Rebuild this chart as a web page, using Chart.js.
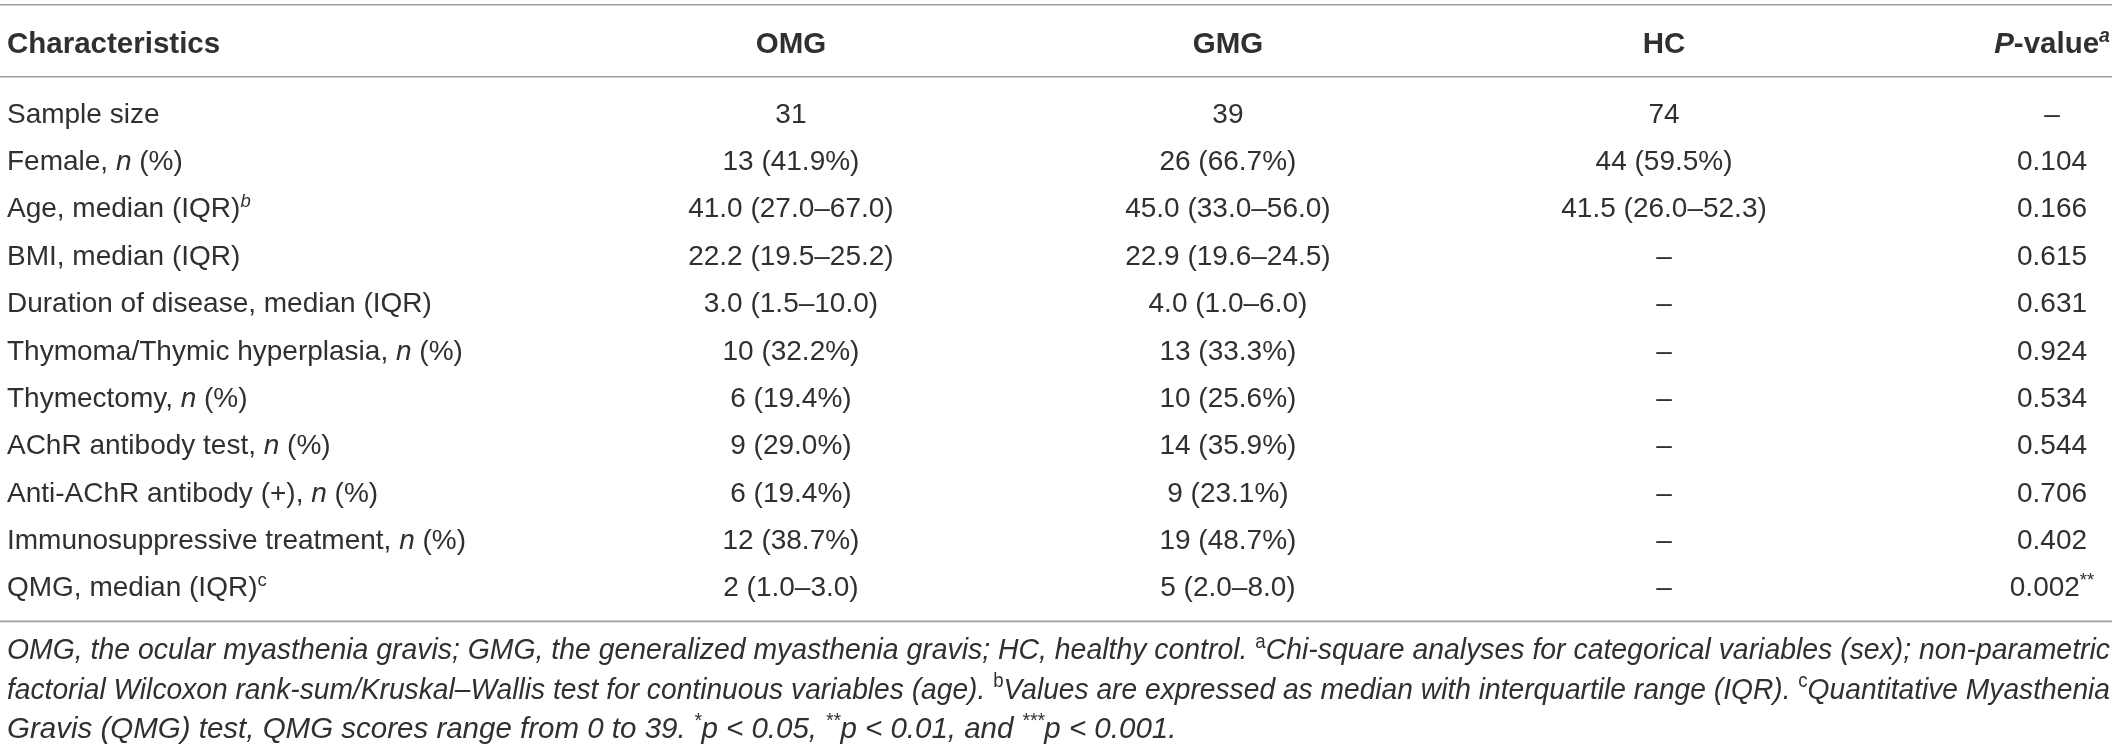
<!DOCTYPE html>
<html>
<head>
<meta charset="utf-8">
<script src="https://cdn.jsdelivr.net/npm/chart.js@4.4.0/dist/chart.umd.min.js"></script>
<style>
html, body { margin: 0; padding: 0; background: #fff; overflow: hidden; }
canvas { display: block; }
</style>
</head>
<body>
<canvas id="tableChart" width="2118" height="746"></canvas>
<script>
// markup: _text_ toggles italic, ^text^ toggles superscript
const headers = ["Characteristics", "OMG", "GMG", "HC", "_P_-value^_a_^"];

const characteristics = [
    "Sample size",
    "Female, _n_ (%)",
    "Age, median (IQR)^_b_^",
    "BMI, median (IQR)",
    "Duration of disease, median (IQR)",
    "Thymoma/Thymic hyperplasia, _n_ (%)",
    "Thymectomy, _n_ (%)",
    "AChR antibody test, _n_ (%)",
    "Anti-AChR antibody (+), _n_ (%)",
    "Immunosuppressive treatment, _n_ (%)",
    "QMG, median (IQR)^c^"
];

const omgValues = ["31", "13 (41.9%)", "41.0 (27.0–67.0)", "22.2 (19.5–25.2)", "3.0 (1.5–10.0)", "10 (32.2%)",
    "6 (19.4%)", "9 (29.0%)", "6 (19.4%)", "12 (38.7%)", "2 (1.0–3.0)"];
const gmgValues = ["39", "26 (66.7%)", "45.0 (33.0–56.0)", "22.9 (19.6–24.5)", "4.0 (1.0–6.0)", "13 (33.3%)",
    "10 (25.6%)", "14 (35.9%)", "9 (23.1%)", "19 (48.7%)", "5 (2.0–8.0)"];
const hcValues = ["74", "44 (59.5%)", "41.5 (26.0–52.3)", "–", "–", "–", "–", "–", "–", "–", "–"];
const pValues = ["–", "0.104", "0.166", "0.615", "0.631", "0.924", "0.534", "0.544", "0.706", "0.402", "0.002^**^"];

const footnotes = [
    "OMG, the ocular myasthenia gravis; GMG, the generalized myasthenia gravis; HC, healthy control. _^a^_Chi-square analyses for categorical variables (sex); non-parametric",
    "factorial Wilcoxon rank-sum/Kruskal–Wallis test for continuous variables (age). _^b^_Values are expressed as median with interquartile range (IQR). _^c^_Quantitative Myasthenia",
    "Gravis (QMG) test, QMG scores range from 0 to 39. ^*^p < 0.05, ^**^p < 0.01, and ^***^p < 0.001."
];

// column anchors on the x scale (percent of width) and how text sits on them
const columnX = [0.33, 37.45, 58.14, 78.79, 97.16];
const columnAlign = ["left", "center", "center", "center", "center"];

const family = "'Liberation Sans', Arial, sans-serif";
const textColor = "#303030";
const ruleColor = "#9d9d9d";
const bodyStyle = { size: 28, weight: 400, italic: false };
const headStyle = { size: 29.5, weight: 700, italic: false };
const noteStyle = { size: 29.5, weight: 400, italic: true };

function parseRich(str) {
    const segs = [];
    let italic = false, sup = false, buf = "";
    for (const ch of str) {
        if (ch === "_" || ch === "^") {
            if (buf) segs.push({ text: buf, italic, sup });
            buf = "";
            if (ch === "_") italic = !italic; else sup = !sup;
        } else {
            buf += ch;
        }
    }
    if (buf) segs.push({ text: buf, italic, sup });
    return segs;
}

function fontFor(seg, style) {
    const italic = style.italic !== seg.italic;
    const size = seg.sup ? style.size * 0.66 : style.size;
    return `${italic ? "italic " : ""}${style.weight} ${size}px ${family}`;
}

function drawRich(ctx, str, x, yCenter, align, style, justifyWidth) {
    const segs = parseRich(str);
    let total = 0;
    segs.forEach(s => {
        ctx.font = fontFor(s, style);
        s.width = ctx.measureText(s.text).width;
        total += s.width;
    });
    let extra = 0, squeeze = 1;
    if (justifyWidth) {
        if (total > justifyWidth) {
            squeeze = justifyWidth / total;
        } else {
            const spaces = segs.reduce((n, s) => n + (s.text.match(/ /g) || []).length, 0);
            extra = spaces ? (justifyWidth - total) / spaces : 0;
        }
    }
    let cx = x;
    if (align === "center") cx = x - total / 2;
    if (align === "right") cx = x - total;
    const baseline = yCenter + style.size * 0.36;
    ctx.save();
    ctx.translate(cx, 0);
    ctx.scale(squeeze, 1);
    cx = 0;
    ctx.textAlign = "left";
    ctx.textBaseline = "alphabetic";
    segs.forEach(s => {
        ctx.font = fontFor(s, style);
        const y = s.sup ? baseline - style.size * 0.38 : baseline;
        if (!extra) {
            ctx.fillText(s.text, cx, y);
            cx += s.width;
            return;
        }
        const words = s.text.split(" ");
        words.forEach((w, i) => {
            ctx.fillText(w, cx, y);
            cx += ctx.measureText(w).width;
            if (i < words.length - 1) cx += ctx.measureText(" ").width + extra;
        });
    });
    ctx.restore();
}

const tablePlugin = {
    id: "tablePlugin",
    afterDraw(chart) {
        const ctx = chart.ctx;
        const xs = chart.scales.x;
        const ys = chart.scales.y;
        const area = chart.chartArea;
        const band = ys.getPixelForValue(1) - ys.getPixelForValue(0);
        const left = 0, right = area.right;

        ctx.save();
        ctx.fillStyle = textColor;

        // rules
        ctx.strokeStyle = ruleColor;
        ctx.lineWidth = 1.6;
        const rules = [area.top - band * 1.78, area.top - band * 0.26, area.bottom + band * 0.24];
        rules.forEach(y => {
            ctx.beginPath();
            ctx.moveTo(left, y);
            ctx.lineTo(right, y);
            ctx.stroke();
        });

        // header row
        const headY = area.top - band * 0.98;
        headers.forEach((h, j) => drawRich(ctx, h, xs.getPixelForValue(columnX[j]), headY, columnAlign[j], headStyle));

        // body rows
        const columns = [characteristics, omgValues, gmgValues, hcValues, pValues];
        columns.forEach((col, j) => {
            col.forEach((cell, i) => {
                drawRich(ctx, cell, xs.getPixelForValue(columnX[j]), ys.getPixelForValue(i), columnAlign[j], bodyStyle);
            });
        });

        // footnotes, first lines justified to the table width
        footnotes.forEach((line, k) => {
            const y = area.bottom + band * (0.81 + k * 0.835);
            const justify = k < footnotes.length - 1 ? right - xs.getPixelForValue(columnX[0]) - 2 : 0;
            drawRich(ctx, line, xs.getPixelForValue(columnX[0]), y, "left", noteStyle, justify);
        });
        ctx.restore();
    }
};

const chart = new Chart(document.getElementById("tableChart"), {
    type: "scatter",
    data: { datasets: [{ data: [] }] },
    options: {
        responsive: false,
        animation: false,
        devicePixelRatio: 1,
        layout: { padding: { top: 89, bottom: 136, left: 0, right: 6 } },
        plugins: { legend: { display: false }, tooltip: { enabled: false } },
        scales: {
            x: { type: "linear", min: 0, max: 100, display: false },
            y: { type: "category", labels: characteristics, offset: true, display: false }
        }
    },
    plugins: [tablePlugin]
});
</script>
</body>
</html>
